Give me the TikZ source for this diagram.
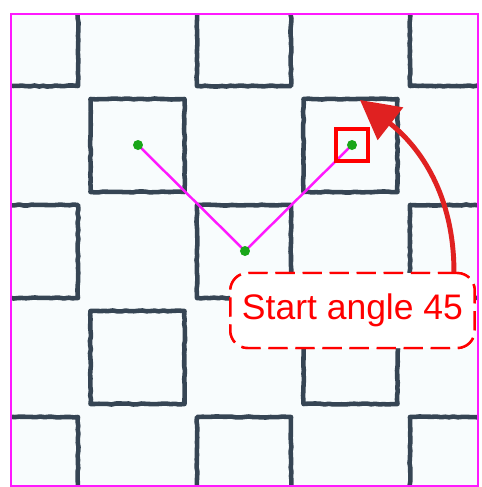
\documentclass[tikz,border=0pt]{standalone}
\usepackage{fontspec}
\usetikzlibrary{arrows.meta,calc,decorations.pathmorphing}
\usepackage{tkz-euclide}
\newfontfamily\lblfont{Liberation Sans}
\definecolor{TileClr}{rgb}{0.21,0.27,0.33}
\definecolor{BackClr}{rgb}{0.973,0.988,0.992}
\definecolor{FrameClr}{rgb}{1,0.1,1}
\definecolor{PtClr}{rgb}{0.1,0.65,0.1}
\definecolor{ArrowClr}{rgb}{0.88,0.13,0.13}

\begin{document}
\begin{tikzpicture}[
  tile/.style={draw=TileClr,line width=1.3pt,line join=round,line cap=round,decorate,
    decoration={random steps,segment length=1.2pt,amplitude=.15pt}},
  note/.style={draw=red,text=red,fill=white,line width=.7pt,
    dash pattern=on 5.5pt off 2.2pt,rounded corners=5pt,
    minimum width=2.39cm,minimum height=.75cm,font=\lblfont\fontsize{10.1}{12}\selectfont}]
\useasboundingbox (0,0) rectangle (4.82,4.87);
\pgfmathsetseed{7}

\fill[BackClr] (0.11,0.01) rectangle (4.78,4.73);

% tiles
\begin{scope}
\clip (0.11,0.01) rectangle (4.78,4.73);
\foreach \i in {0,...,4}{
  \foreach \j in {0,...,4}{
    \pgfmathtruncatemacro\k{mod(\i+\j,2)}
    \ifnum\k=0
      \draw[tile] ({-0.16+1.065*\i},{4.94-1.06*\j}) rectangle ++(0.94,-0.93);
    \fi
  }
}
\end{scope}

\draw[FrameClr,line width=.8pt] (0.11,0.01) rectangle (4.78,4.73);

\tkzDefPoints{1.38/3.42/A,2.45/2.36/B,3.52/3.42/C}
\tkzDrawPolySeg[color=FrameClr,line width=.7pt](A,B,C)
\foreach \p in {A,B,C}
  \fill[PtClr] (\p) circle (0.05);

\node[draw=red,line width=1pt,minimum size=.32cm,inner sep=0pt] (sel) at (C) {};

% label and arrow
\node[note] (lbl) at (3.525,1.765) {Start angle 45};
\coordinate (tip) at (3.60,3.87);
\draw[ArrowClr,line width=1.4pt,-{Triangle[length=11pt,width=11.5pt]}]
  ($(lbl.north east)+(-0.22,0)$) to[out=90,in=-38] (tip);
\node[note] at (lbl) {Start angle 45};

\end{tikzpicture}
\end{document}
